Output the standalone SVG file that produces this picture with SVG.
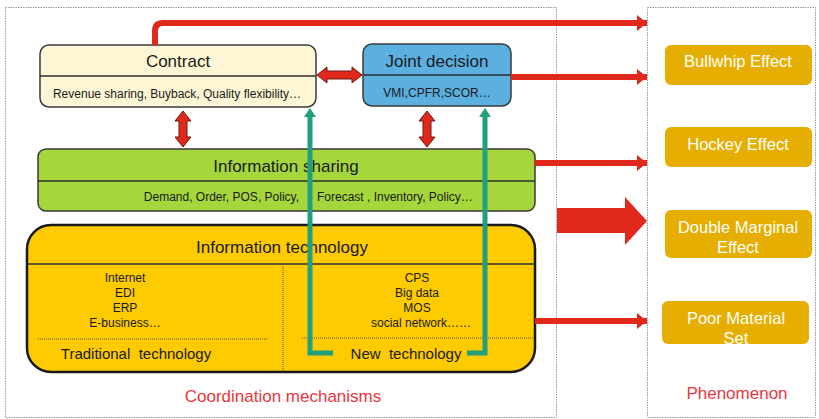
<svg xmlns="http://www.w3.org/2000/svg" width="819" height="419" viewBox="0 0 819 419">
<defs>
<style>
text{font-family:"Liberation Sans",Arial,sans-serif;text-anchor:middle;dominant-baseline:central;white-space:pre}
.frame{fill:none;stroke:#9a9a9a;stroke-width:1;stroke-dasharray:1.5 1}
.box{stroke:#3a3a3a;stroke-width:1.5}
.div{stroke:#2d2d2d;stroke-width:1.3}
.dot{stroke:#555;stroke-width:1;stroke-dasharray:1 1}
.t16{font-size:17px;fill:#1a1a1a}
.t11{font-size:12px;fill:#1a1a1a}
.t14{font-size:15px;fill:#1a1a1a}
.ph{fill:#e6ae00}
.pht{font-size:16.5px;fill:#ffffff}
.red{fill:none;stroke:#e0291c;stroke-width:6}
.dbl{fill:#e0291c;stroke:#6b1b12;stroke-width:1}
.teal{fill:none;stroke:#22a07e;stroke-width:5}
.lbl{font-size:17px;fill:#e8383d}
</style>
<marker id="rh" markerUnits="userSpaceOnUse" markerWidth="12" markerHeight="16" refX="10" refY="8" orient="auto">
<path d="M0,0 L10,8 L0,16 Z" fill="#e0291c"/>
</marker>
</defs>
<rect class="frame" x="5.5" y="7.5" width="551" height="410"/>
<rect class="frame" x="647.5" y="7.5" width="168" height="410"/>

<g id="contract">
<rect class="box" x="40" y="45" width="276" height="62" rx="9" fill="#fdf6d4"/>
<line class="div" x1="40" y1="76" x2="316" y2="76"/>
<text class="t16" x="178" y="61">Contract</text>
<text class="t11" x="177" y="94">Revenue sharing, Buyback, Quality flexibility…</text>
</g>

<g id="joint-decision">
<rect class="box" x="363" y="44" width="148" height="62" rx="9" fill="#5cb0e0"/>
<line class="div" x1="363" y1="75" x2="511" y2="75"/>
<text class="t16" x="437" y="61">Joint decision</text>
<text class="t11" x="437" y="93">VMI,CPFR,SCOR…</text>
</g>

<g id="information-sharing">
<rect class="box" x="38" y="149" width="497" height="62" rx="8" fill="#a5d63c"/>
<line class="div" x1="38" y1="181" x2="535" y2="181"/>
<text class="t16" x="286" y="166">Information sharing</text>
<text class="t11" x="299" y="197" style="text-anchor:end">Demand, Order, POS, Policy,</text>
<text class="t11" x="317" y="197" style="text-anchor:start">Forecast , Inventory, Policy…</text>
</g>

<g id="information-technology">
<rect x="27" y="225" width="508" height="147" rx="24" fill="#fdcb00" stroke="#1a1a1a" stroke-width="2.5"/>
<line class="div" x1="27" y1="264" x2="535" y2="264"/>
<line class="dot" x1="283" y1="264" x2="283" y2="372"/>
<line class="dot" x1="38" y1="339" x2="267" y2="339"/>
<line class="dot" x1="302" y1="338" x2="533" y2="338"/>
<text class="t16" x="282" y="247">Information technology</text>
<text class="t11" x="125" y="278">Internet</text>
<text class="t11" x="125" y="293">EDI</text>
<text class="t11" x="125" y="308">ERP</text>
<text class="t11" x="125" y="323">E-business…</text>
<text class="t11" x="417" y="278">CPS</text>
<text class="t11" x="417" y="293">Big data</text>
<text class="t11" x="417" y="308">MOS</text>
<text class="t11" x="421" y="323">social network……</text>
<text class="t14" x="136" y="353">Traditional  technology</text>
<text class="t14" x="406" y="353">New  technology</text>
</g>

<g id="bullwhip">
<rect class="ph" x="665" y="45" width="147" height="40" rx="6"/>
<text class="pht" x="738" y="61">Bullwhip Effect</text>
</g>
<g id="hockey">
<rect class="ph" x="665" y="127" width="147" height="40" rx="6"/>
<text class="pht" x="738" y="144">Hockey Effect</text>
</g>
<g id="double-marginal">
<rect class="ph" x="665" y="210" width="147" height="48" rx="6"/>
<text class="pht" x="738" y="227">Double Marginal</text>
<text class="pht" x="738" y="247">Effect</text>
</g>
<g id="poor-material">
<rect class="ph" x="662" y="301" width="147" height="43" rx="6"/>
<text class="pht" x="736" y="318">Poor Material</text>
<text class="pht" x="736" y="338">Set</text>
</g>

<text class="lbl" x="283" y="396">Coordination mechanisms</text>
<text class="lbl" x="737" y="393">Phenomenon</text>

<g id="connectors">
<path class="red" d="M155,45 V31 Q155,23 163,23 H647" marker-end="url(#rh)"/>
<path class="red" d="M511,77 H647" marker-end="url(#rh)"/>
<path class="red" d="M535,163 H647" marker-end="url(#rh)"/>
<path class="red" d="M535,321 H647" marker-end="url(#rh)"/>
<polygon fill="#e0291c" points="557,208 625,208 625,197 647,221 625,245 625,233 557,233"/>
<polygon class="dbl" points="317,75 327,67 327,71 352,71 352,67 362,75 352,83 352,79 327,79 327,83"/>
<polygon class="dbl" points="183,111 191,121 187,121 187,137 191,137 183,147 175,137 179,137 179,121 175,121"/>
<polygon class="dbl" points="427,111 435,121 431,121 431,137 435,137 427,147 419,137 423,137 423,121 419,121"/>
<path class="teal" d="M333,353 H310 V116"/>
<polygon fill="#22a07e" points="310,108 316,117 304,117"/>
<path class="teal" d="M467,353 H485 V116"/>
<polygon fill="#22a07e" points="485,108 491,117 479,117"/>
</g>
</svg>
